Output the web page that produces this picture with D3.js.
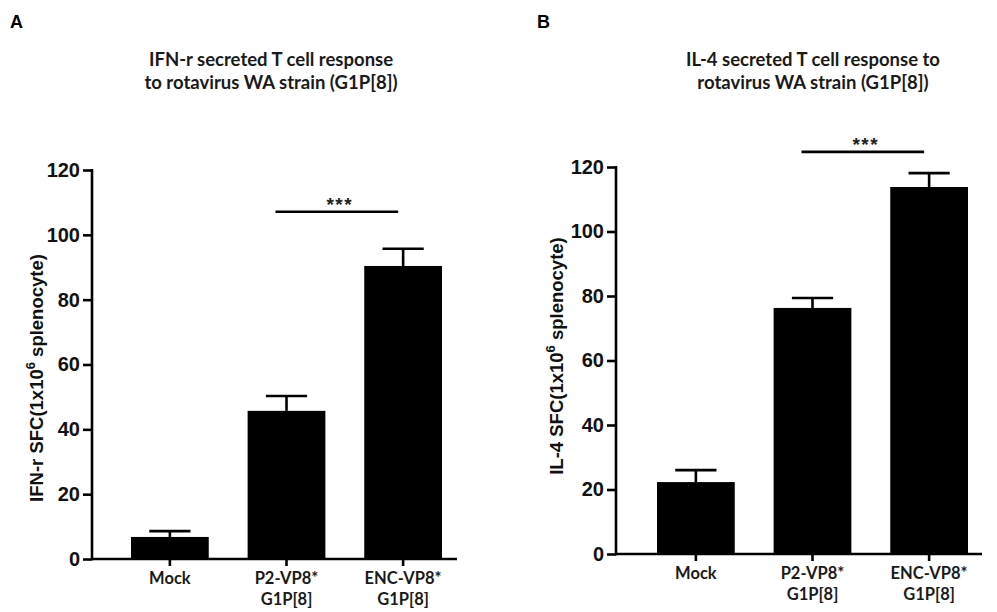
<!DOCTYPE html>
<html><head><meta charset="utf-8">
<script src="https://cdn.jsdelivr.net/npm/d3@7"></script>
<style>body{margin:0;background:#fff}svg{display:block}</style></head>
<body>
<svg id="c" width="997" height="612"></svg>
<script>
// ---- data ----
const categories = ["Mock", "P2-VP8*", "ENC-VP8*"];
const categorySub = ["", "G1P[8]", "G1P[8]"];
const ifnMeans = [6.8, 45.7, 90.4];
const ifnErrors = [1.8, 4.6, 5.3];
const il4Means = [22.3, 76.3, 113.8];
const il4Errors = [3.7, 3.1, 4.3];
const yTicks = [0, 20, 40, 60, 80, 100, 120];
const sigLabel = "***";
const sigLevelA = 107.1;
const sigLevelB = 124.7;

const panels = [
  {letter: "A", title: ["IFN-r secreted T cell response", "to rotavirus WA strain (G1P[8])"],
   yLabel: "IFN-r SFC(1x10", yLabelEnd: " splenocyte)", means: ifnMeans, errors: ifnErrors, sig: sigLevelA,
   letterX: 10, titleX: 271, axisX: 92, axisEnd: 457, barRange: [131, 442], y0: 559, yTop: 170, yLabelX: 43, yLabelY: 378},
  {letter: "B", title: ["IL-4 secreted T cell response to", "rotavirus WA strain (G1P[8])"],
   yLabel: "IL-4 SFC(1x10", yLabelEnd: " splenocyte)", means: il4Means, errors: il4Errors, sig: sigLevelB,
   letterX: 537, titleX: 813, axisX: 616, axisEnd: 982, barRange: [657, 968], y0: 554, yTop: 167, yLabelX: 563, yLabelY: 356}
];

const svg = d3.select("#c");
const LW = 2.6;
const numFont = "'Liberation Sans', Arial, sans-serif";
const txtFont = "Lato, 'Open Sans', sans-serif";

panels.forEach(p => {
  const g = svg.append("g");
  const x = d3.scaleBand().domain(categories).range(p.barRange).paddingInner(1/3).paddingOuter(0);
  const y = d3.scaleLinear().domain([0, 120]).range([p.y0, p.yTop]);

  // panel letter
  g.append("text").attr("x", p.letterX).attr("y", 28).text(p.letter)
    .attr("font-family", numFont).attr("font-weight", "bold").attr("font-size", 18).attr("fill", "#000");

  // title
  p.title.forEach((t, i) => {
    g.append("text").attr("x", p.titleX).attr("y", 66 + i * 23).attr("text-anchor", "middle")
      .attr("font-family", txtFont).attr("font-weight", "bold").attr("font-size", 18.5).attr("fill", "#1a1a1a").text(t);
  });

  // bars
  g.selectAll("rect.bar").data(p.means).join("rect").attr("class", "bar")
    .attr("x", (d, i) => x(categories[i])).attr("width", x.bandwidth())
    .attr("y", d => y(d)).attr("height", d => y(0) - y(d)).attr("fill", "#000");

  // error bars
  const capW = x.bandwidth() * 0.53;
  p.means.forEach((m, i) => {
    const cx = x(categories[i]) + x.bandwidth() / 2;
    g.append("line").attr("x1", cx).attr("x2", cx).attr("y1", y(m)).attr("y2", y(m + p.errors[i]))
      .attr("stroke", "#000").attr("stroke-width", LW);
    g.append("line").attr("x1", cx - capW / 2).attr("x2", cx + capW / 2)
      .attr("y1", y(m + p.errors[i])).attr("y2", y(m + p.errors[i]))
      .attr("stroke", "#000").attr("stroke-width", LW);
  });

  // y axis
  const ya = g.append("g").attr("transform", `translate(${p.axisX},0)`)
    .call(d3.axisLeft(y).tickValues(yTicks).tickSize(9).tickPadding(3).tickFormat(d3.format("d")));
  ya.select(".domain").remove();
  ya.selectAll(".tick line").attr("stroke", "#000").attr("stroke-width", LW);
  ya.selectAll(".tick text").attr("font-family", numFont).attr("font-weight", "bold")
    .attr("font-size", 20).attr("fill", "#111");
  g.append("line").attr("x1", p.axisX).attr("x2", p.axisX).attr("y1", y(120) - 1).attr("y2", y(0) + LW / 2)
    .attr("stroke", "#000").attr("stroke-width", LW);

  // x axis
  const xa = g.append("g").attr("transform", `translate(0,${p.y0})`)
    .call(d3.axisBottom(x).tickSize(7).tickFormat(""));
  xa.select(".domain").remove();
  xa.selectAll(".tick line").attr("stroke", "#000").attr("stroke-width", LW);
  g.append("line").attr("x1", p.axisX).attr("x2", p.axisEnd).attr("y1", p.y0).attr("y2", p.y0)
    .attr("stroke", "#000").attr("stroke-width", LW);

  categories.forEach((c, i) => {
    const cx = x(c) + x.bandwidth() / 2;
    const t = g.append("text").attr("text-anchor", "middle").attr("font-family", txtFont)
      .attr("font-weight", "bold").attr("font-size", 16.5).attr("fill", "#1a1a1a");
    t.append("tspan").attr("x", cx).attr("y", p.y0 + 25).text(c);
    if (categorySub[i]) t.append("tspan").attr("x", cx).attr("y", p.y0 + 46).text(categorySub[i]);
  });

  // y axis label
  const lab = g.append("text").attr("transform", `translate(${p.yLabelX},${p.yLabelY}) rotate(-90)`)
    .attr("text-anchor", "middle").attr("font-family", numFont).attr("font-weight", "bold")
    .attr("font-size", 18.5).attr("fill", "#111");
  lab.append("tspan").text(p.yLabel);
  lab.append("tspan").attr("dy", -8).attr("font-size", 13).text("6");
  lab.append("tspan").attr("dy", 8).text(p.yLabelEnd);

  // significance
  const c1 = x(categories[1]) + x.bandwidth() / 2 - 11;
  const c2 = x(categories[2]) + x.bandwidth() / 2 - 5;
  g.append("line").attr("x1", c1).attr("x2", c2).attr("y1", y(p.sig)).attr("y2", y(p.sig))
    .attr("stroke", "#000").attr("stroke-width", LW);
  g.append("text").attr("x", (c1 + c2) / 2 + 3).attr("y", y(p.sig) - 1).attr("text-anchor", "middle")
    .attr("font-family", numFont).attr("font-weight", "bold").attr("font-size", 19)
    .attr("letter-spacing", 1.5).attr("fill", "#222").text(sigLabel);
});
</script>
</body></html>
